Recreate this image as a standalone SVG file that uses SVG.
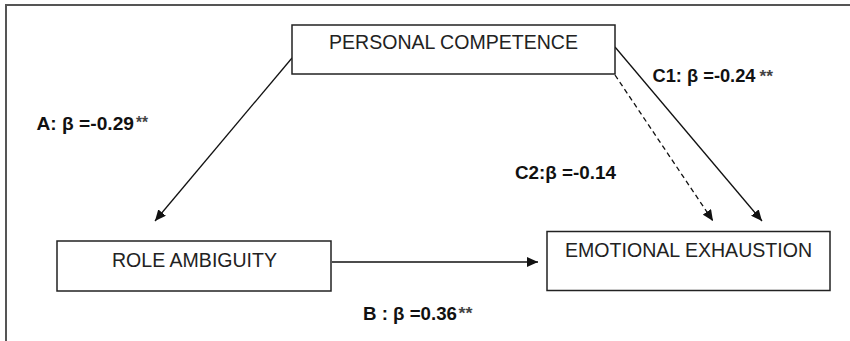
<svg xmlns="http://www.w3.org/2000/svg" width="850" height="341" viewBox="0 0 850 341">
<style>
.box{fill:#fff;stroke:#222;stroke-width:1.5}
.nt{font-family:"Liberation Sans",Arial,sans-serif;font-size:19.5px;fill:#222;text-anchor:middle}
.lb{font-family:"Liberation Sans",Arial,sans-serif;font-size:19px;font-weight:bold;fill:#111}
.st{font-family:"Liberation Sans",Arial,sans-serif;font-size:17px;font-weight:bold;fill:#444}
.ln{stroke:#111;stroke-width:1.3;fill:none}
.dash{stroke-dasharray:5 3.5}
</style>
<defs>
<marker id="ah" markerUnits="userSpaceOnUse" markerWidth="12" markerHeight="10" refX="11" refY="5" orient="auto">
<path d="M0,0 L11,5 L0,10 Z" fill="#111"/>
</marker>
</defs>
<rect x="6" y="5" width="860" height="350" fill="none" stroke="#555" stroke-width="2"/>
<g id="connectors">
<line class="ln" x1="292" y1="58" x2="155" y2="221" marker-end="url(#ah)"/>
<line class="ln" x1="615" y1="47" x2="762" y2="221" marker-end="url(#ah)"/>
<line class="ln dash" x1="615" y1="75" x2="713" y2="221" marker-end="url(#ah)"/>
<line class="ln" x1="332" y1="262" x2="538" y2="262" marker-end="url(#ah)"/>
</g>
<g id="personal-competence">
<rect class="box" x="292" y="25" width="323" height="49"/>
<text class="nt" x="453.5" y="49" textLength="249" lengthAdjust="spacingAndGlyphs">PERSONAL COMPETENCE</text>
</g>
<g id="role-ambiguity">
<rect class="box" x="57" y="241" width="274" height="50"/>
<text class="nt" x="194.5" y="267" textLength="165" lengthAdjust="spacingAndGlyphs">ROLE AMBIGUITY</text>
</g>
<g id="emotional-exhaustion">
<rect class="box" x="547" y="231.5" width="283" height="59"/>
<text class="nt" x="688.5" y="257" textLength="247" lengthAdjust="spacingAndGlyphs">EMOTIONAL EXHAUSTION</text>
</g>
<g id="labels">
<text class="lb" x="36.5" y="130" textLength="97.5" lengthAdjust="spacingAndGlyphs">A: β =-0.29</text>
<text class="st" x="136" y="127.5" textLength="12" lengthAdjust="spacingAndGlyphs">**</text>
<text class="lb" x="652.5" y="81.7" textLength="103" lengthAdjust="spacingAndGlyphs">C1: β =-0.24</text>
<text class="st" x="759.5" y="81.5" textLength="13.5" lengthAdjust="spacingAndGlyphs">**</text>
<text class="lb" x="515" y="179" textLength="101" lengthAdjust="spacingAndGlyphs">C2:β =-0.14</text>
<text class="lb" x="363" y="320" textLength="94" lengthAdjust="spacingAndGlyphs">B : β =0.36</text>
<text class="st" x="458.5" y="319" textLength="14" lengthAdjust="spacingAndGlyphs">**</text>
</g>
</svg>
